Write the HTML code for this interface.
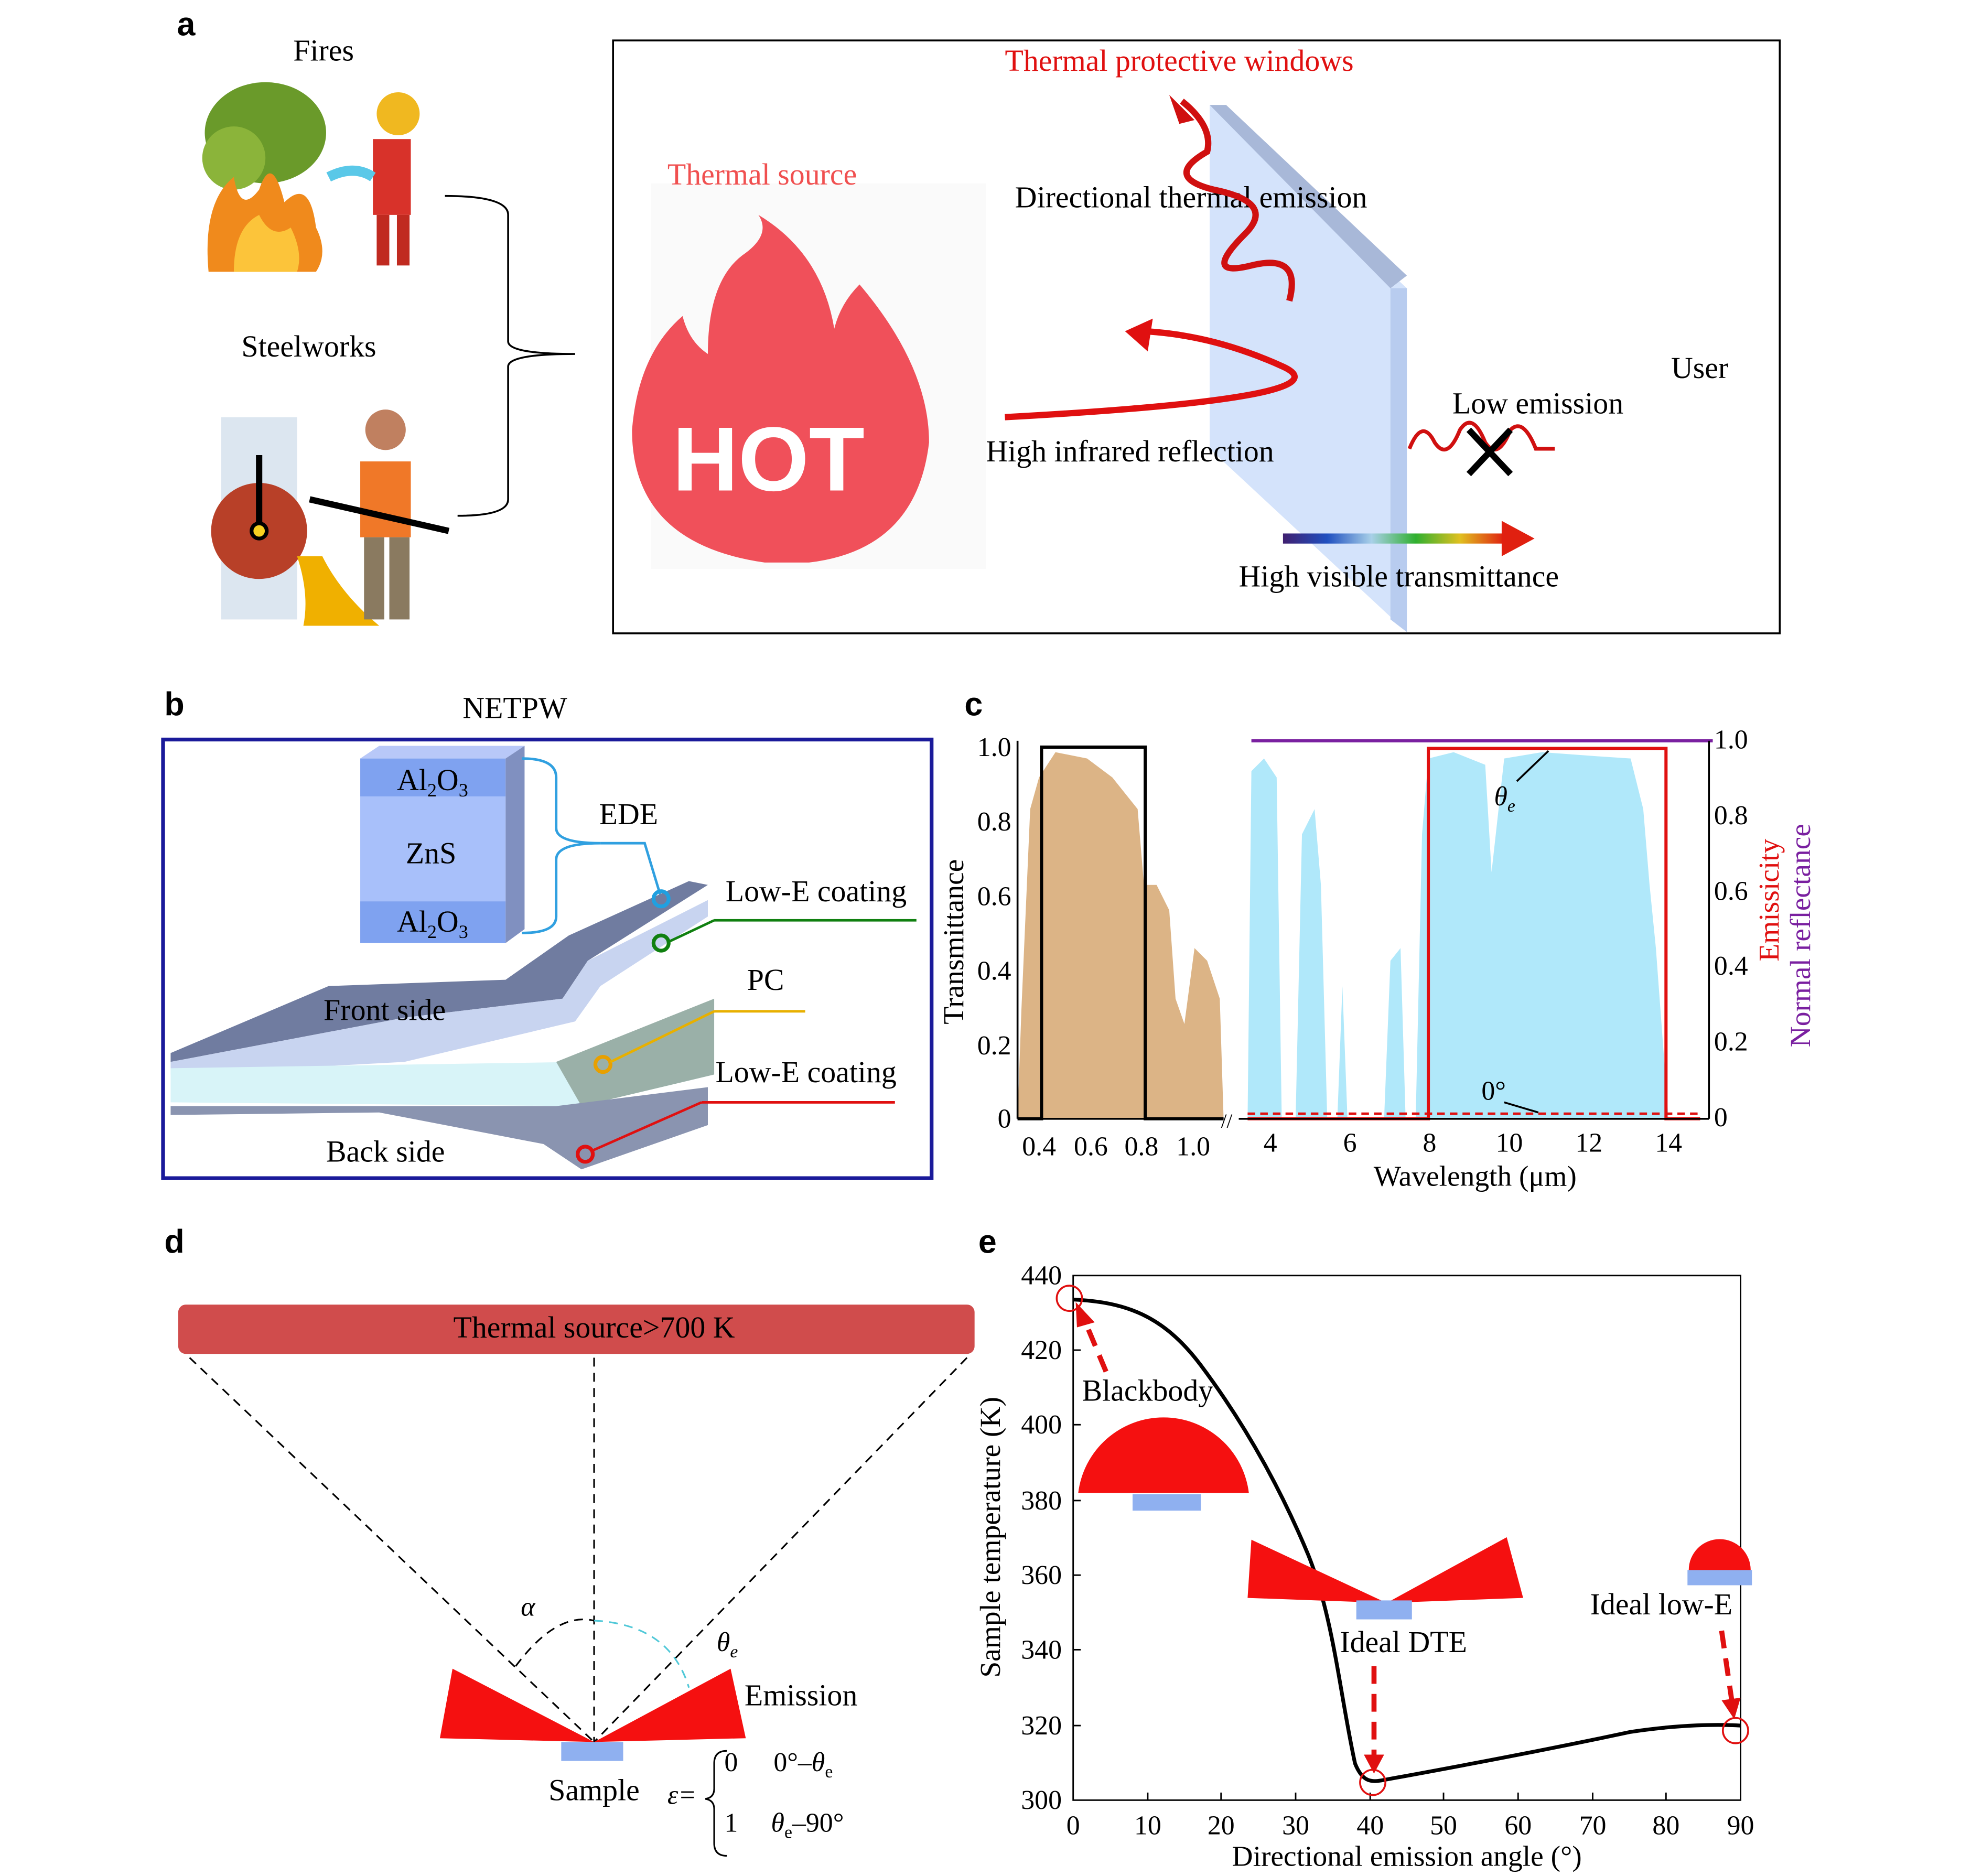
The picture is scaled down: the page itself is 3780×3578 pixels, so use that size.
<!DOCTYPE html>
<html><head><meta charset="utf-8"><style>
html,body{margin:0;padding:0;background:#fff}
svg{display:block}
text{font-family:"Liberation Serif",serif;fill:#000}
.sb{font-family:"Liberation Sans",sans-serif;font-weight:bold}
</style></head><body>
<svg width="3780" height="3578" viewBox="0 0 1568 1484" preserveAspectRatio="none" xmlns="http://www.w3.org/2000/svg">
<!-- PANEL A -->
<text x="140" y="28" font-size="26" class="sb">a</text>
<text x="232" y="48" font-size="24">Fires</text>
<text x="191" y="282" font-size="24">Steelworks</text>
<ellipse cx="210" cy="105" rx="48" ry="40" fill="#6a9a2a"/>
<ellipse cx="185" cy="125" rx="25" ry="25" fill="#8bb43a"/>
<path d="M165,215 Q160,160 185,140 Q190,170 205,150 Q215,120 225,160 Q245,140 250,180 Q260,200 250,215 Z" fill="#f08a1c"/>
<path d="M185,215 Q185,180 205,170 Q215,190 230,180 Q240,200 235,215 Z" fill="#fcc43a"/>
<rect x="295" y="110" width="30" height="60" fill="#d8322a"/>
<circle cx="315" cy="90" r="17" fill="#f0b820"/>
<rect x="298" y="170" width="10" height="40" fill="#c02a20"/><rect x="314" y="170" width="10" height="40" fill="#c02a20"/>
<path d="M260,140 Q280,130 295,140" stroke="#5ac8e8" stroke-width="8" fill="none"/>
<rect x="175" y="330" width="60" height="160" fill="#dce6f0"/>
<circle cx="205" cy="420" r="38" fill="#b84028"/>
<circle cx="205" cy="420" r="6" fill="#f8d020" stroke="#000" stroke-width="3"/>
<line x1="205" y1="360" x2="205" y2="415" stroke="#000" stroke-width="5"/>
<path d="M235,440 Q245,470 240,495 L300,495 Q270,470 255,440 Z" fill="#f0b000"/>
<rect x="285" y="365" width="40" height="60" fill="#f07828"/>
<circle cx="305" cy="340" r="16" fill="#c08060"/>
<rect x="288" y="425" width="16" height="65" fill="#8a7a60"/><rect x="308" y="425" width="16" height="65" fill="#8a7a60"/>
<line x1="245" y1="395" x2="355" y2="420" stroke="#000" stroke-width="5"/>
<path d="M352,155 Q402,155 402,170 L402,270 Q402,280 455,280 Q402,280 402,290 L402,395 Q402,408 362,408" stroke="#000" stroke-width="1.5" fill="none"/>
<rect x="485" y="32" width="923" height="469" fill="none" stroke="#000" stroke-width="1.5"/>
<rect x="515" y="145" width="265" height="305" fill="#fafafa"/>
<path d="M605,445 Q500,430 500,340 Q505,280 540,250 Q545,270 560,280 Q560,220 590,200 Q610,185 600,170 Q650,200 660,260 Q665,240 680,225 Q735,290 735,350 Q725,435 640,445 Z" fill="#f0505a"/>
<text x="532" y="388" font-size="72" class="sb" style="fill:#fff">HOT</text>
<text x="528" y="146" font-size="24" style="fill:#f05050">Thermal source</text>
<text x="795" y="56" font-size="24" style="fill:#e01010">Thermal protective windows</text>
<polygon points="957,83 1113,228 1113,500 957,355" fill="#cfe0fb" opacity="0.9"/>
<polygon points="957,83 970,83 1113,218 1100,228" fill="#a8b8d8"/>
<polygon points="1100,228 1113,228 1113,500 1100,490" fill="#b8ccef"/>
<text x="803" y="164" font-size="24">Directional thermal emission</text>
<path d="M1020,238 Q1030,200 990,210 Q950,220 985,185 Q1010,160 960,150 Q920,140 955,120 Q960,100 935,80" stroke="#d01010" stroke-width="5" fill="none"/>
<polygon points="925,75 945,95 933,98" fill="#d01010"/>
<path d="M795,330 Q1070,315 1015,290 Q960,265 905,262" stroke="#e01010" stroke-width="5" fill="none"/>
<polygon points="890,262 912,252 908,278" fill="#e01010"/>
<text x="780" y="365" font-size="24">High infrared reflection</text>
<text x="1322" y="299" font-size="24">User</text>
<text x="1149" y="327" font-size="24">Low emission</text>
<path d="M1115,355 Q1125,330 1135,350 Q1145,365 1155,340 Q1165,325 1175,350 Q1185,365 1195,340 Q1205,330 1215,355 L1230,355" stroke="#d01010" stroke-width="3" fill="none"/>
<path d="M1162,340 L1195,375 M1195,340 L1162,375" stroke="#000" stroke-width="5"/>
<defs><linearGradient id="rb"><stop offset="0" stop-color="#402070"/><stop offset="0.2" stop-color="#2050c0"/><stop offset="0.4" stop-color="#a8d0e8"/><stop offset="0.6" stop-color="#30b030"/><stop offset="0.8" stop-color="#e0c020"/><stop offset="1" stop-color="#e02010"/></linearGradient></defs>
<rect x="1015" y="422" width="175" height="8" fill="url(#rb)"/>
<polygon points="1188,412 1214,426 1188,440" fill="#e02010"/>
<text x="980" y="464" font-size="24">High visible transmittance</text>

<!-- PANEL B -->
<text x="130" y="566" font-size="26" class="sb">b</text>
<text x="366" y="568" font-size="24">NETPW</text>
<rect x="129" y="585" width="608" height="347" fill="none" stroke="#1a1a9a" stroke-width="3"/>
<polygon points="285,600 400,600 415,590 300,590" fill="#b8c8f8"/>
<rect x="285" y="600" width="115" height="30" fill="#7fa2f0"/>
<rect x="285" y="630" width="115" height="83" fill="#a8c0fa"/>
<rect x="285" y="713" width="115" height="33" fill="#7fa2f0"/>
<polygon points="400,600 415,590 415,735 400,746" fill="#8090c0"/>
<text x="314" y="625" font-size="24">Al<tspan font-size="15" dy="5">2</tspan><tspan dy="-5">O</tspan><tspan font-size="15" dy="5">3</tspan></text>
<text x="321" y="683" font-size="24">ZnS</text>
<text x="314" y="737" font-size="24">Al<tspan font-size="15" dy="5">2</tspan><tspan dy="-5">O</tspan><tspan font-size="15" dy="5">3</tspan></text>
<path d="M413,600 Q440,600 440,615 L440,655 Q440,667 475,667 Q440,667 440,680 L440,725 Q440,738 413,738" stroke="#30a0e0" stroke-width="2" fill="none"/>
<path d="M475,667 L510,667 L523,710" stroke="#30a0e0" stroke-width="2" fill="none"/>
<text x="474" y="652" font-size="24">EDE</text>
<polygon points="135,833 260,780 400,775 450,740 545,697 560,700 465,760 445,790 320,805 135,840" fill="#707ca0"/>
<polygon points="135,840 320,805 445,790 465,760 560,712 560,725 475,780 455,808 320,840 135,850" fill="#c8d4f0"/>
<polygon points="135,845 460,840 565,800 565,850 460,875 135,872" fill="#d8f4f8"/>
<polygon points="440,840 565,790 565,850 460,875" fill="#9ab0a8"/>
<polygon points="135,875 440,875 560,860 560,890 460,925 430,905 300,880 135,882" fill="#8a94b0"/>
<circle cx="523" cy="711" r="6" fill="none" stroke="#20a0e0" stroke-width="3"/>
<circle cx="523" cy="746" r="6" fill="none" stroke="#108010" stroke-width="3"/>
<line x1="529" y1="745" x2="565" y2="728" stroke="#108010" stroke-width="2"/><line x1="565" y1="728" x2="725" y2="728" stroke="#108010" stroke-width="2"/>
<text x="574" y="713" font-size="24">Low-E coating</text>
<text x="591" y="783" font-size="24">PC</text>
<circle cx="477" cy="842" r="6" fill="none" stroke="#e8a000" stroke-width="3"/>
<line x1="483" y1="840" x2="565" y2="800" stroke="#e8b000" stroke-width="2"/><line x1="565" y1="800" x2="637" y2="800" stroke="#e8b000" stroke-width="2"/>
<text x="566" y="856" font-size="24">Low-E coating</text>
<circle cx="463" cy="913" r="6" fill="none" stroke="#e01010" stroke-width="3"/>
<line x1="469" y1="910" x2="555" y2="872" stroke="#e01010" stroke-width="2"/><line x1="555" y1="872" x2="708" y2="872" stroke="#e01010" stroke-width="2"/>
<text x="256" y="807" font-size="24">Front side</text>
<text x="258" y="919" font-size="24">Back side</text>

<!-- PANEL C -->
<text x="763" y="566" font-size="26" class="sb">c</text>
<polygon points="805,885 808,800 815,640 822,615 835,595 860,600 880,615 900,640 905,700 915,700 925,720 930,790 937,810 945,750 955,760 965,790 968,885" fill="#dcb486"/>
<polygon points="987,885 990,610 1000,600 1010,615 1014,885 1025,885 1030,660 1040,640 1045,700 1050,885 1058,885 1062,780 1066,885 1095,885 1100,760 1108,750 1112,885 1120,885 1125,660 1130,600 1150,595 1175,605 1180,690 1190,600 1220,595 1260,598 1290,600 1300,640 1305,700 1310,750 1320,885" fill="#b0e8fa"/>
<polyline points="805,885 824,885 824,591 906,591 906,885 968,885" stroke="#000" stroke-width="2.5" fill="none"/>
<polyline points="987,885 1130,885 1130,592 1318,592 1318,885 1345,885" stroke="#e01010" stroke-width="2.5" fill="none"/>
<line x1="987" y1="881" x2="1345" y2="881" stroke="#e01010" stroke-width="2" stroke-dasharray="6,4"/>
<line x1="990" y1="586" x2="1355" y2="586" stroke="#7a20a0" stroke-width="2.5"/>
<line x1="805" y1="885" x2="968" y2="885" stroke="#000" stroke-width="1.5"/>
<line x1="980" y1="885" x2="1352" y2="885" stroke="#000" stroke-width="1.5"/>
<line x1="805" y1="586" x2="805" y2="885" stroke="#000" stroke-width="1.5"/>
<line x1="1352" y1="586" x2="1352" y2="885" stroke="#000" stroke-width="1.5"/>
<text x="966" y="892" font-size="16">//</text>
<g font-size="21.5" text-anchor="end">
<text x="800" y="598">1.0</text><text x="800" y="657">0.8</text><text x="800" y="716">0.6</text><text x="800" y="775">0.4</text><text x="800" y="834">0.2</text><text x="800" y="892">0</text>
</g>
<g font-size="21.5">
<text x="1356" y="592">1.0</text><text x="1356" y="652">0.8</text><text x="1356" y="712">0.6</text><text x="1356" y="771">0.4</text><text x="1356" y="831">0.2</text><text x="1356" y="891">0</text>
</g>
<g font-size="21.5" text-anchor="middle">
<text x="822" y="914">0.4</text><text x="863" y="914">0.6</text><text x="903" y="914">0.8</text><text x="944" y="914">1.0</text>
<text x="1005" y="911">4</text><text x="1068" y="911">6</text><text x="1131" y="911">8</text><text x="1194" y="911">10</text><text x="1257" y="911">12</text><text x="1320" y="911">14</text>
</g>
<text x="1167" y="938" font-size="23" text-anchor="middle">Wavelength (μm)</text>
<text transform="translate(762,745) rotate(-90)" font-size="23" text-anchor="middle">Transmittance</text>
<text transform="translate(1407,712) rotate(-90)" font-size="23" text-anchor="middle" style="fill:#e01010">Emissicity</text>
<text transform="translate(1432,740) rotate(-90)" font-size="23" text-anchor="middle" style="fill:#7a20a0">Normal reflectance</text>
<text x="1182" y="637" font-size="21.5" font-style="italic">θ<tspan font-size="14" dy="5">e</tspan></text>
<line x1="1200" y1="618" x2="1225" y2="594" stroke="#000" stroke-width="1.5"/>
<text x="1172" y="870" font-size="21.5">0°</text>
<line x1="1190" y1="872" x2="1217" y2="880" stroke="#000" stroke-width="1.5"/>

<!-- PANEL D -->
<text x="130" y="991" font-size="26" class="sb">d</text>
<rect x="141" y="1032" width="630" height="39" rx="6" fill="#d04c4c"/>
<text x="470" y="1058" font-size="24" text-anchor="middle">Thermal source&gt;700 K</text>
<g stroke="#000" stroke-width="1.3" stroke-dasharray="7,5" fill="none">
<line x1="150" y1="1074" x2="470" y2="1378"/><line x1="765" y1="1074" x2="470" y2="1378"/><line x1="470" y1="1074" x2="470" y2="1378"/>
<path d="M408,1318 Q440,1275 470,1282"/>
</g>
<path d="M470,1282 Q530,1285 545,1335" stroke="#50c8d8" stroke-width="1.3" stroke-dasharray="7,5" fill="none"/>
<polygon points="470,1378 358,1320 348,1375" fill="#f51010"/>
<polygon points="470,1378 578,1320 590,1375" fill="#f51010"/>
<rect x="444" y="1378" width="49" height="15" fill="#8fb0f0"/>
<text x="412" y="1278" font-size="21.5" font-style="italic">α</text>
<text x="567" y="1306" font-size="21.5" font-style="italic">θ<tspan font-size="14" dy="5">e</tspan></text>
<text x="589" y="1349" font-size="24">Emission</text>
<text x="434" y="1424" font-size="24">Sample</text>
<text x="528" y="1427" font-size="21.5" font-style="italic">ε=</text>
<path d="M575,1385 Q565,1385 565,1395 L565,1415 Q565,1422 558,1423 Q565,1424 565,1431 L565,1458 Q565,1468 575,1468" stroke="#000" stroke-width="1.3" fill="none"/>
<text x="573" y="1401" font-size="21.5">0</text><text x="612" y="1401" font-size="21.5">0°–<tspan font-style="italic">θ</tspan><tspan font-size="14" dy="5">e</tspan></text>
<text x="573" y="1449" font-size="21.5">1</text><text x="610" y="1449" font-size="21.5"><tspan font-style="italic">θ</tspan><tspan font-size="14" dy="5">e</tspan><tspan dy="-5">–90°</tspan></text>

<!-- PANEL E -->
<text x="774" y="991" font-size="26" class="sb">e</text>
<rect x="849" y="1009" width="528" height="415" fill="none" stroke="#000" stroke-width="1.2"/>
<g stroke="#000" stroke-width="1.2">
<line x1="908" y1="1424" x2="908" y2="1418"/><line x1="966" y1="1424" x2="966" y2="1418"/><line x1="1025" y1="1424" x2="1025" y2="1418"/><line x1="1084" y1="1424" x2="1084" y2="1418"/><line x1="1142" y1="1424" x2="1142" y2="1418"/><line x1="1201" y1="1424" x2="1201" y2="1418"/><line x1="1260" y1="1424" x2="1260" y2="1418"/><line x1="1318" y1="1424" x2="1318" y2="1418"/>
<line x1="849" y1="1068" x2="855" y2="1068"/><line x1="849" y1="1127" x2="855" y2="1127"/><line x1="849" y1="1187" x2="855" y2="1187"/><line x1="849" y1="1246" x2="855" y2="1246"/><line x1="849" y1="1305" x2="855" y2="1305"/><line x1="849" y1="1365" x2="855" y2="1365"/>
</g>
<g font-size="21.5" text-anchor="end">
<text x="840" y="1016">440</text><text x="840" y="1075">420</text><text x="840" y="1134">400</text><text x="840" y="1194">380</text><text x="840" y="1253">360</text><text x="840" y="1312">340</text><text x="840" y="1372">320</text><text x="840" y="1431">300</text>
</g>
<g font-size="21.5" text-anchor="middle">
<text x="849" y="1451">0</text><text x="908" y="1451">10</text><text x="966" y="1451">20</text><text x="1025" y="1451">30</text><text x="1084" y="1451">40</text><text x="1142" y="1451">50</text><text x="1201" y="1451">60</text><text x="1260" y="1451">70</text><text x="1318" y="1451">80</text><text x="1377" y="1451">90</text>
</g>
<text x="1113" y="1476" font-size="23" text-anchor="middle">Directional emission angle (°)</text>
<text transform="translate(791,1216) rotate(-90)" font-size="23" text-anchor="middle">Sample temperature (K)</text>
<path d="M849,1028 C890,1030 920,1040 950,1080 C980,1120 1010,1170 1035,1230 C1055,1280 1060,1340 1072,1395 C1078,1410 1085,1410 1095,1408 C1150,1398 1220,1385 1290,1370 C1330,1364 1360,1364 1377,1365" stroke="#000" stroke-width="3" fill="none"/>
<path d="M853,1181 A68,68 0 0 1 988,1181 Z" fill="#f51010"/>
<rect x="896" y="1182" width="54" height="13" fill="#8fb0f0"/>
<polygon points="1097,1268 990,1218 987,1264" fill="#f51010"/>
<polygon points="1097,1268 1192,1216 1205,1264" fill="#f51010"/>
<rect x="1073" y="1266" width="44" height="15" fill="#8fb0f0"/>
<path d="M1336,1242 A24,24 0 0 1 1385,1242 Z" fill="#f51010"/>
<rect x="1335" y="1242" width="51" height="12" fill="#8fb0f0"/>
<text x="856" y="1108" font-size="24">Blackbody</text>
<text x="1060" y="1307" font-size="24">Ideal DTE</text>
<text x="1258" y="1277" font-size="24">Ideal low-E</text>
<circle cx="846" cy="1027" r="10" fill="none" stroke="#e01010" stroke-width="1.5"/>
<circle cx="1086" cy="1410" r="10" fill="none" stroke="#e01010" stroke-width="1.5"/>
<circle cx="1373" cy="1369" r="10" fill="none" stroke="#e01010" stroke-width="1.5"/>
<g stroke="#e01010" stroke-width="4" stroke-dasharray="14,8" fill="none">
<line x1="875" y1="1085" x2="857" y2="1042"/>
<line x1="1087" y1="1318" x2="1087" y2="1390"/>
<line x1="1362" y1="1290" x2="1370" y2="1345"/>
</g>
<polygon points="851,1030 866,1046 852,1050" fill="#e01010"/>
<polygon points="1079,1388 1095,1388 1087,1403" fill="#e01010"/>
<polygon points="1362,1345 1377,1343 1372,1360" fill="#e01010"/>
</svg>
</body></html>
